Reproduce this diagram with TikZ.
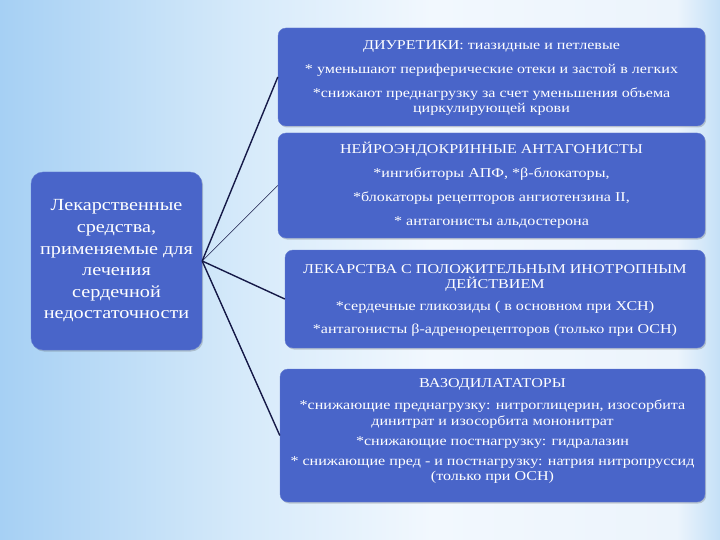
\documentclass[tikz,border=0pt]{standalone}
\usepackage{fontspec}
\setmainfont{Liberation Serif}[FakeStretch=1.19]
\usetikzlibrary{shadows}
\definecolor{boxblue}{RGB}{73,101,201}
\definecolor{linecol}{RGB}{22,26,72}
\definecolor{bgA}{RGB}{166,208,244}
\definecolor{bgB}{RGB}{214,234,250}
\definecolor{bgC}{RGB}{242,248,254}
\definecolor{bgD}{RGB}{236,244,252}
\definecolor{bgE}{RGB}{196,224,247}
\pgfdeclarehorizontalshading{bgshade}{100bp}{color(0bp)=(bgA); color(25bp)=(bgA); color(42bp)=(bgB); color(55bp)=(bgC); color(72bp)=(bgD); color(75bp)=(bgE); color(100bp)=(bgE)}
\tikzset{
  box/.style={fill=boxblue, draw=boxblue!85!white, line width=0.4pt, rounded corners=8pt, inner sep=0pt,
    drop shadow={shadow xshift=1.2pt, shadow yshift=-1.5pt, opacity=0.25, fill=black!70}},
  boxtext/.style={text=white, align=center, inner sep=0pt, font=\fontsize{13.5pt}{15.5pt}\selectfont},
  conn/.style={draw=linecol, line width=1.4pt},
  thinconn/.style={draw=linecol, line width=0.6pt}
}
\begin{document}
\begin{tikzpicture}[x=1pt,y=-1pt]
\useasboundingbox (0,0) rectangle (720,540);
\shade[shading=bgshade] (0,0) rectangle (720,540);

\node[box, rounded corners=12pt, minimum width=171pt, minimum height=178pt, text=white, align=center,
  font=\fontsize{17pt}{21.6pt}\selectfont] (L) at (116.5,261)
  {Лекарственные\\средства,\\применяемые для\\лечения\\сердечной\\недостаточности};

\node[box, minimum width=427pt, minimum height=98pt] (B1) at (491.5,77) {};
\node[box, minimum width=427pt, minimum height=105pt] (B2) at (491.5,185.5) {};
\node[box, minimum width=420pt, minimum height=98pt] (B3) at (495,299) {};
\node[box, minimum width=425pt, minimum height=133pt] (B4) at (492.5,435.5) {};

\node[boxtext, yshift=-1pt] (t1) at (B1.center)
  {ДИУРЕТИКИ: тиазидные и петлевые\\[8.5pt]
   * уменьшают периферические отеки и застой в легких\\[8.5pt]
   *снижают преднагрузку за счет уменьшения объема\\
   циркулирующей крови};
\node[boxtext, yshift=0.5pt] (t2) at (B2.center)
  {НЕЙРОЭНДОКРИННЫЕ АНТАГОНИСТЫ\\[8.5pt]
   *ингибиторы АПФ, *β-блокаторы,\\[8pt]
   *блокаторы рецепторов ангиотензина II,\\[8.5pt]
   * антагонисты альдостерона};
\node[boxtext, yshift=-1pt] (t3) at (B3.center)
  {ЛЕКАРСТВА С ПОЛОЖИТЕЛЬНЫМ ИНОТРОПНЫМ\\
   ДЕЙСТВИЕМ\\[6.5pt]
   *сердечные гликозиды ( в основном при ХСН)\\[7pt]
   *антагонисты β-адренорецепторов (только при ОСН)};
\node[boxtext, yshift=4.5pt] (t4) at (B4.center)
  {ВАЗОДИЛАТАТОРЫ\\[6.5pt]
   *снижающие преднагрузку: нитроглицерин, изосорбита\\
   динитрат и изосорбита мононитрат\\[4.5pt]
   *снижающие постнагрузку: гидралазин\\[4.5pt]
   * снижающие пред - и постнагрузку: натрия нитропруссид\\
   (только при ОСН)};

\draw[conn] (L.east) -- (B1.west);
\draw[thinconn] (L.east) -- (B2.west);
\draw[conn] (L.east) -- (B3.west);
\draw[conn] (L.east) -- (B4.west);
\end{tikzpicture}
\end{document}
